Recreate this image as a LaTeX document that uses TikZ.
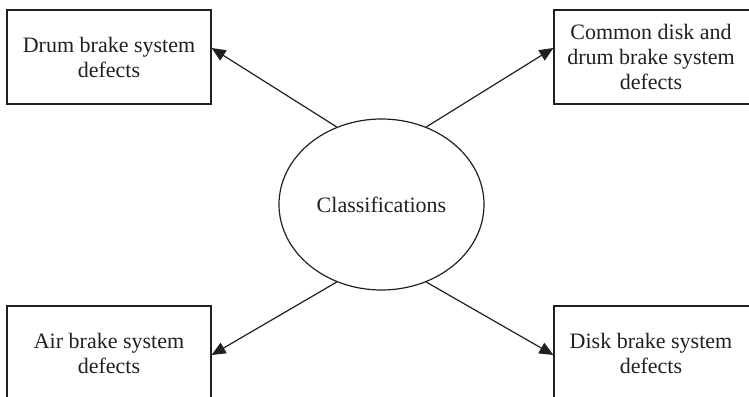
\documentclass[tikz,border=0pt]{standalone}
\usepackage{fontspec}
\setmainfont{Liberation Serif}
\usetikzlibrary{arrows.meta,shapes.geometric}
\definecolor{ink}{HTML}{231F20}
\begin{document}
\begin{tikzpicture}[x=1pt,y=-1pt,
  every node/.style={text=ink},
  box/.style={draw=ink,line width=1.2pt,minimum width=204pt,minimum height=94pt,
    align=center,inner sep=0pt,font=\fontsize{22}{25}\selectfont},
  hub/.style={draw=ink,line width=1.2pt,ellipse,minimum width=205pt,minimum height=171pt,
    inner sep=0pt,font=\fontsize{22}{25}\selectfont},
  link/.style={draw=ink,line width=1.2pt,-{Triangle[length=14pt,width=12pt]}}]
\useasboundingbox (0,0) rectangle (749,396);
\clip (0,0) rectangle (749,396);
\node[hub] (cls) at (381.5,204.5) {Classifications};
\node[box] (drum) at (109,57) {Drum brake system\\defects};
\node[box] (common) at (656,57) {\hspace*{-10pt}Common disk and\\\hspace*{-10pt}drum brake system\\\hspace*{-10pt}defects};
\node[box] (air) at (109,353) {Air brake system\\defects};
\node[box] (disk) at (656,353) {\hspace*{-10pt}Disk brake system\\\hspace*{-10pt}defects};
\draw[link] (cls.120) -- ([yshift=9pt]drum.east);
\draw[link] (cls.60) -- ([yshift=9pt]common.west);
\draw[link] (cls.240) -- ([yshift=-2pt]air.east);
\draw[link] (cls.300) -- ([yshift=-2pt]disk.west);
\end{tikzpicture}
\end{document}
